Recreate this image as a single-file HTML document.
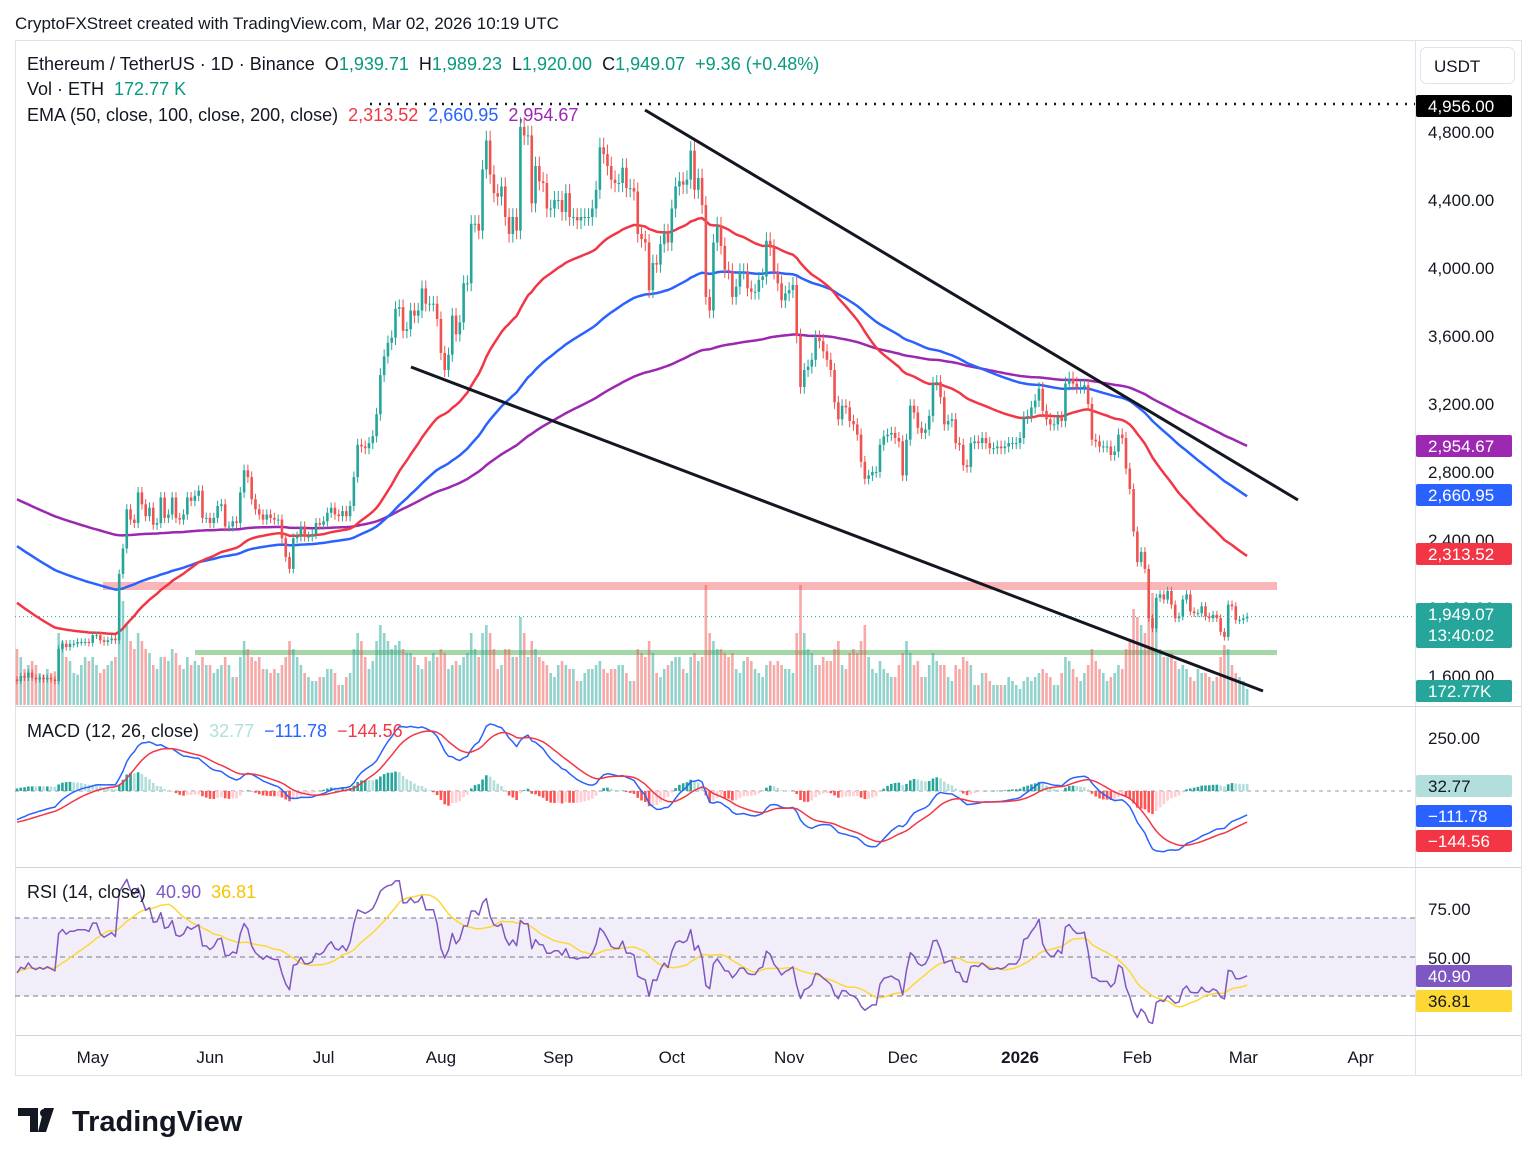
<!DOCTYPE html>
<html><head><meta charset="utf-8">
<style>
body{margin:0;background:#fff;width:1536px;height:1165px;overflow:hidden;font-family:"Liberation Sans",sans-serif;}
svg text{font-family:"Liberation Sans",sans-serif;}
.pre{white-space:pre;}
</style></head>
<body>
<svg id="chart" width="1536" height="1165" xmlns="http://www.w3.org/2000/svg">
<text x="15" y="29" font-size="17" fill="#131722">CryptoFXStreet created with TradingView.com, Mar 02, 2026 10:19 UTC</text>
<rect x="15.5" y="40.5" width="1506" height="1035" fill="none" stroke="#e0e3eb"/>
<line x1="1415.5" y1="40" x2="1415.5" y2="1075" stroke="#e0e3eb"/>
<line x1="15" y1="706.5" x2="1521" y2="706.5" stroke="#d1d4dc"/>
<line x1="15" y1="867.5" x2="1521" y2="867.5" stroke="#d1d4dc"/>
<line x1="15" y1="1035.5" x2="1521" y2="1035.5" stroke="#d1d4dc"/>
<g id="pricePane"></g>
<g id="macdPane"></g>
<g id="rsiPane"></g>
<g id="axes"></g>
<g font-size="18">
<text class="pre" x="27" y="70" fill="#131722">Ethereum / TetherUS · 1D · Binance  O<tspan fill="#089981">1,939.71</tspan>  H<tspan fill="#089981">1,989.23</tspan>  L<tspan fill="#089981">1,920.00</tspan>  C<tspan fill="#089981">1,949.07  +9.36 (+0.48%)</tspan></text>
<text class="pre" x="27" y="95" fill="#131722">Vol · ETH  <tspan fill="#089981">172.77 K</tspan></text>
<text class="pre" x="27" y="121" fill="#131722">EMA (50, close, 100, close, 200, close)  <tspan fill="#f23645">2,313.52</tspan>  <tspan fill="#2962ff">2,660.95</tspan>  <tspan fill="#9c27b0">2,954.67</tspan></text>
<text class="pre" x="27" y="737" fill="#131722">MACD (12, 26, close)  <tspan fill="#b2dfdb">32.77</tspan>  <tspan fill="#2962ff">−111.78</tspan>  <tspan fill="#f23645">−144.56</tspan></text>
<text class="pre" x="27" y="898" fill="#131722">RSI (14, close)  <tspan fill="#7e57c2">40.90</tspan>  <tspan fill="#f5c400">36.81</tspan></text>
</g>
<rect x="1420.5" y="47.5" width="94" height="36" rx="6" fill="#fff" stroke="#e0e3eb"/>
<text x="1434" y="72" font-size="17" fill="#131722">USDT</text>
<g>
<path d="M18 1108h20v24h-8v-16h-12z M44 1108h10l-8 24h-8z" fill="#131722"/>
<circle cx="44" cy="1113" r="4" fill="#131722"/>
<text x="72" y="1131" font-size="29" font-weight="bold" fill="#131722">TradingView</text>
</g>
</svg>
<script>
const closes=[1570,1600,1590,1620,1590,1580,1590,1580,1590,1580,1570,1760,1790,1770,1790,1790,1800,1800,1800,1795,
1840,1840,1810,1800,1810,1820,1810,2200,2350,2580,2520,2500,2680,2610,2540,2590,2490,2500,2650,2530,2550,2650,2530,2520,2550,2650,2630,2660,2690,2530,2530,
2500,2530,2600,2610,2480,2480,2510,2500,2680,2810,2770,2640,2580,2550,2520,2550,2530,2520,2520,2410,2300,2230,2410,2420,2480,2420,2420,2435,2500,2490,
2510,2560,2590,2550,2540,2570,2540,2600,2770,2960,2950,2940,2970,3010,3140,3370,3480,3560,3590,3760,3770,3630,3640,3750,3720,3750,3880,3790,3790,3790,3700,
3500,3400,3490,3720,3610,3680,3910,3910,4260,4260,4220,4580,4750,4550,4440,4420,4480,4300,4200,4300,4220,4830,4780,4780,4380,4600,4510,4500,4350,4350,4400,
4400,4330,4440,4300,4300,4280,4300,4300,4300,4350,4460,4710,4670,4600,4520,4500,4500,4590,4470,4470,4450,4200,4170,4150,3870,4030,4020,4140,4210,4150,
4350,4480,4510,4490,4520,4690,4460,4530,4370,3830,3750,4150,4250,4130,3990,3980,3830,3890,3980,3980,3880,3860,3860,3930,3950,4160,4120,3980,3910,3810,3850,
3870,3900,3600,3300,3400,3420,3460,3590,3570,3510,3460,3400,3210,3110,3190,3180,3100,3080,3020,2860,2760,2780,2800,2800,2960,3010,3020,3030,3000,2980,
2780,2990,3190,3150,3060,3030,3050,3130,3320,3330,3240,3080,3100,3110,2970,2960,2840,2830,2970,2980,2970,3000,2970,2940,2940,2950,2940,2950,2970,2970,2970,
3000,3120,3130,3180,3220,3290,3160,3110,3080,3080,3120,3100,3320,3350,3320,3300,3300,3310,3200,2990,2980,2950,2950,2950,2900,2920,3020,3000,2820,2700,2450,
2270,2330,2230,1940,1880,2060,2080,2050,2100,2020,1940,1950,2050,2080,1980,1970,1970,2010,1950,1940,1960,1940,1860,1830,2020,2010,1930,1930,
1939,1949];
const volumes=[700,600,450,500,550,500,400,380,450,400,420,900,800,600,550,400,380,500,600,550,
600,500,400,450,500,550,600,1100,1300,1000,800,700,900,800,700,650,500,450,600,600,550,700,650,500,450,600,500,550,500,600,500,
500,400,450,500,600,500,350,350,600,800,700,600,550,600,450,450,400,450,400,500,600,800,700,600,500,400,350,300,300,350,
350,450,450,400,250,250,350,400,700,900,800,600,450,550,800,1000,900,800,700,750,800,700,650,650,600,500,450,600,550,650,600,
700,650,450,500,550,500,600,650,900,700,600,900,1000,900,700,450,500,700,700,600,600,1100,900,600,800,700,600,550,500,400,350,
500,550,500,450,450,300,300,400,450,450,500,550,450,400,450,450,500,500,400,300,300,700,650,600,800,650,400,350,450,500,
550,600,600,450,400,600,650,550,600,1500,900,800,700,700,650,600,650,450,400,550,600,550,450,400,350,500,550,500,550,500,450,
450,400,900,1500,900,700,650,500,500,600,550,550,700,800,500,450,650,700,650,800,1000,600,450,400,550,450,400,350,350,500,
650,800,650,500,550,350,350,500,650,550,500,500,350,300,500,450,600,550,500,250,250,400,400,300,250,250,250,250,350,300,250,
200,300,350,300,350,400,450,400,350,250,250,400,600,550,450,350,300,400,500,700,550,450,400,300,350,400,500,450,700,800,1200,
1100,1000,900,1200,1400,1300,700,600,600,650,550,450,500,450,350,300,450,400,400,350,300,350,600,750,700,500,400,350,
300,200];
const priceTicks=[4800,4400,4000,3600,3200,2800,2400,2000,1600];
const monthLabels=["May","Jun","Jul","Aug","Sep","Oct","Nov","Dec","2026","Feb","Mar","Apr"];
const monthDayIndex=[20,51,81,112,143,173,204,234,265,296,324,355];

const NS="http://www.w3.org/2000/svg";
function mk(parent,tag,attrs){const e=document.createElementNS(NS,tag);for(const k in attrs)e.setAttribute(k,attrs[k]);parent.appendChild(e);return e;}
const xS=i=>17+i*3.785;
const pY=p=>132+(4800-p)*0.17;
const mY=v=>791-v*0.212;
const rY=v=>957-(v-50)*1.95;
const pp=document.getElementById('pricePane');
const mp=document.getElementById('macdPane');
const rp=document.getElementById('rsiPane');
const ax=document.getElementById('axes');
const N=closes.length;

const defs=mk(document.getElementById('chart'),'defs',{});
const cp=mk(defs,'clipPath',{id:'cpPrice'});mk(cp,'rect',{x:15,y:41,width:1400,height:665});
const cm=mk(defs,'clipPath',{id:'cpMacd'});mk(cm,'rect',{x:15,y:707,width:1400,height:160});
pp.setAttribute('clip-path','url(#cpPrice)');
mp.setAttribute('clip-path','url(#cpMacd)');

let e=mk(pp,'rect',{x:103,y:582,width:1174,height:8,fill:'#f7a9ab',opacity:0.85});


e=mk(pp,'rect',{x:195,y:650,width:1082,height:5,fill:'#a5d6a7'});


e=mk(pp,'line',{x1:370,y1:104,x2:1415,y2:104,stroke:'#131722','stroke-width':2.5,'stroke-dasharray':'2 7'});


e=mk(pp,'line',{x1:15,y1:pY(1949.07),x2:1415,y2:pY(1949.07),stroke:'#26a69a','stroke-width':1,'stroke-dasharray':'1 3'});



for(let i=0;i<N;i++){const o=i?closes[i-1]:1580;const up=closes[i]>=o;const h=volumes[i]*0.08;
 const r=mk(pp,'rect',{x:xS(i)-1.3,y:705-h,width:2.6,height:h,fill:up?'rgba(38,166,154,0.5)':'rgba(239,83,80,0.5)'});
 
 }

function ema(period,seed){const k=2/(period+1);let v=seed;return closes.map(c=>{v=c*k+v*(1-k);return v;});}
const e50=ema(50,2050),e100=ema(100,2380),e200=ema(200,2650);
function line(parent,vals,fy,color,w,name){const d=vals.map((v,i)=>(i?'L':'M')+xS(i).toFixed(1)+' '+fy(v).toFixed(1)).join('');const p=mk(parent,'path',{d:d,fill:'none',stroke:color,'stroke-width':w,'stroke-linejoin':'round'});return p;}
line(pp,e200,pY,'#9c27b0',2.5,'ema-200-line');
line(pp,e100,pY,'#2962ff',2.5,'ema-100-line');
line(pp,e50,pY,'#f23645',2.5,'ema-50-line');

for(let i=0;i<N;i++){const o=i?closes[i-1]:1580,c=closes[i];const up=c>=o;const col=up?'#26a69a':'#ef5350';
 const hi=Math.max(o,c)*1.012,lo=Math.min(o,c)*0.988;
 const w=mk(pp,'line',{x1:xS(i),y1:pY(hi),x2:xS(i),y2:pY(lo),stroke:col,'stroke-width':1});
 
 
 const top=pY(Math.max(o,c));const hh=Math.max(1,pY(Math.min(o,c))-top);
 const b=mk(pp,'rect',{x:xS(i)-1.3,y:top,width:2.6,height:hh,fill:col});
 
 }

e=mk(pp,'line',{x1:645,y1:110,x2:1298,y2:500,stroke:'#131722','stroke-width':3});


e=mk(pp,'line',{x1:411,y1:367,x2:1263,y2:691,stroke:'#131722','stroke-width':3});



const e12=[],e26=[];{let a=1640,b=1780;closes.forEach(c=>{a=c*2/13+a*11/13;b=c*2/27+b*25/27;e12.push(a);e26.push(b);});}
const macd=e12.map((v,i)=>v-e26[i]);
const sig=[];{let s=-150;macd.forEach(m=>{s=m*0.2+s*0.8;sig.push(s);});}
e=mk(mp,'line',{x1:15,y1:791,x2:1415,y2:791,stroke:'#9598a1','stroke-width':1,'stroke-dasharray':'4 4'});


let prevH=0;
for(let i=0;i<N;i++){const h=macd[i]-sig[i];let col;if(h>=0)col=h>=prevH?'#26a69a':'#b2dfdb';else col=h<prevH?'#ff5252':'#ffcdd2';prevH=h;
 const y1=mY(Math.max(h,0)),y2=mY(Math.min(h,0));
 const r=mk(mp,'rect',{x:xS(i)-1.3,y:y1,width:2.6,height:Math.max(0.5,y2-y1),fill:col});
 
 }
line(mp,macd,mY,'#2962ff',1.5,'macd-line');
line(mp,sig,mY,'#f23645',1.5,'macd-signal-line');

const rsi=[];{let ag=20,al=27;for(let i=0;i<N;i++){const o=i?closes[i-1]:1580;const d=closes[i]-o;ag=(ag*13+Math.max(d,0))/14;al=(al*13+Math.max(-d,0))/14;rsi.push(100-100/(1+ag/al));}}
const rsiMa=rsi.map((v,i)=>{const s=rsi.slice(Math.max(0,i-13),i+1);return s.reduce((a,b)=>a+b,0)/s.length;});
e=mk(rp,'rect',{x:15,y:rY(70),width:1400,height:rY(30)-rY(70),fill:'rgba(126,87,194,0.1)'});


[70,50,30].forEach(v=>{const l=mk(rp,'line',{x1:15,y1:rY(v),x2:1415,y2:rY(v),stroke:'#787b86','stroke-width':1,'stroke-dasharray':'5 4'});
 
 });
line(rp,rsiMa,rY,'#fdd835',1.5,'rsi-ma-line');
line(rp,rsi,rY,'#7e57c2',1.5,'rsi-line');

priceTicks.forEach(p=>{const t=mk(ax,'text',{x:1428,y:pY(p)+6,'font-size':17,fill:'#131722'});t.textContent=p.toLocaleString('en-US',{minimumFractionDigits:2});
 
 });
[[250,738],[75,909],[50,958]].forEach(([v,y])=>{const t=mk(ax,'text',{x:1428,y:y+6,'font-size':17,fill:'#131722'});t.textContent=v.toFixed(2);
 
 });
monthLabels.forEach((m,k)=>{const t=mk(ax,'text',{x:xS(monthDayIndex[k]),y:1063,'font-size':17,fill:'#131722','text-anchor':'middle','font-weight':m==='2026'?'bold':'normal'});t.textContent=m;
 
 });

const boxes=[[95,22,'#000','#fff','4,956.00'],[435,22,'#9c27b0','#fff','2,954.67'],[484,22,'#2962ff','#fff','2,660.95'],[543,22,'#f23645','#fff','2,313.52'],[603,45,'#26a69a','#fff','1,949.07|13:40:02'],[680,22,'#26a69a','#fff','172.77K'],[775,22,'#b2dfdb','#131722','32.77'],[805,22,'#2962ff','#fff','−111.78'],[830,22,'#f23645','#fff','−144.56'],[965,22,'#7e57c2','#fff','40.90'],[990,22,'#fdd835','#131722','36.81']];
boxes.forEach(([y,h,bg,fg,txt])=>{const r=mk(ax,'rect',{x:1416,y:y,width:96,height:h,fill:bg,rx:2});
 
 
 txt.split('|').forEach((s,j)=>{const t=mk(ax,'text',{x:1428,y:y+17+j*21,'font-size':17,fill:fg});t.textContent=s;
 
 });});
</script>
</body></html>
